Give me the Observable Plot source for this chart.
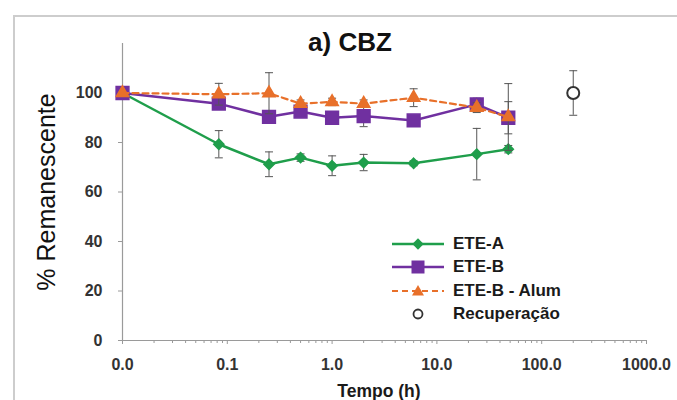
<!DOCTYPE html>
<html>
<head>
<meta charset="utf-8">
<script src="https://cdn.jsdelivr.net/npm/d3@7"></script>
<script src="https://cdn.jsdelivr.net/npm/@observablehq/plot@0.6"></script>
<style>
  html, body { margin: 0; padding: 0; background: #fff; overflow: hidden; }
  #wrap { position: relative; width: 677px; height: 400px; font-family: "Liberation Sans", Arial, sans-serif; }
  #border { position: absolute; left: 13px; top: 15px; width: 720px; height: 450px; border: 2px solid #cdcdcd; box-sizing: border-box; }
  #chart { position: absolute; left: 0; top: 0; }
  #title { position: absolute; left: 0; width: 700px; top: 27px; text-align: center; font-weight: bold; font-size: 26px; color: #111; }
  #ylab { position: absolute; left: 46px; top: 192px; transform: translate(-50%, -50%) rotate(-90deg); white-space: nowrap; font-size: 25px; color: #111; }
  #xlab { position: absolute; left: 379px; top: 381px; transform: translateX(-50%); white-space: nowrap; font-size: 17.5px; font-weight: bold; color: #1a1a1a; }
  #legend { position: absolute; left: 392px; top: 232px; font-size: 17px; font-weight: bold; color: #1a1a1a; }
  #legend .row { display: flex; align-items: center; height: 23.5px; }
  #legend svg { width: 52px; height: 20px; margin-right: 9px; }
  g[aria-label="x-axis tick label"] text, g[aria-label="y-axis tick label"] text { font-weight: bold; }
</style>
</head>
<body>
<div id="wrap">
  <div id="border"></div>
  <div id="chart"></div>
  <div id="title">a) CBZ</div>
  <div id="ylab">% Remanescente</div>
  <div id="xlab">Tempo (h)</div>
  <div id="legend"></div>
</div>
<script>
// ---- data (time in hours; t = 0 plotted at 0.01 on the log axis) ----
const tempo = [0.01, 0.083, 0.25, 0.5, 1, 2, 6, 24, 48];
const eteA = [100, 79.3, 71.2, 73.9, 70.6, 71.9, 71.6, 75.3, 77.3];
const eteAErr = [0, 5.5, 5, 1.5, 4, 3.3, 1, 10.4, 1.5];
const eteB = [100, 95.7, 90.4, 92.5, 90, 90.7, 88.9, 95.4, 90];
const eteBErr = [0, 1.5, 2, 1.5, 2, 4.3, 1.5, 2.5, 6.5];
const eteBAlum = [100, 99.5, 99.9, 95.7, 96.4, 95.7, 98.1, 94.1, 90.3];
const eteBAlumErr = [0, 4.4, 8.3, 1.5, 1.5, 1.5, 3.6, 2, 13.5];
const recTempo = [200];
const recValor = [100];
const recErr = [9];

const seriesNames = ["ETE-A", "ETE-B", "ETE-B - Alum", "Recuperação"];
const xMajorTicks = [0.01, 0.1, 1, 10, 100, 1000];
const yTicks = [0, 20, 40, 60, 80, 100];
const xDomain = [0.01, 1000];
const yDomain = [0, 120];

const colors = {"ETE-A": "#1f9e4b", "ETE-B": "#7030a0", "ETE-B - Alum": "#e8702a", "Recuperação": "#333"};

// build tables
const mk = (name, xs, ys, es) => xs.map((x, i) => ({serie: name, x, y: ys[i], e: es[i]}));
const dA = mk("ETE-A", tempo, eteA, eteAErr);
const dB = mk("ETE-B", tempo, eteB, eteBErr);
const dC = mk("ETE-B - Alum", tempo, eteBAlum, eteBAlumErr);
const dR = mk("Recuperação", recTempo, recValor, recErr);

// minor log ticks
const xMinorTicks = [];
for (const dec of xMajorTicks.slice(0, -1)) for (const m of d3.range(2, 10)) xMinorTicks.push(dec * m);

const capSymbol = {draw(ctx, size) { const w = Math.sqrt(size / Math.PI); ctx.moveTo(-w, 0); ctx.lineTo(w, 0); }};
const errMarks = (d) => [
  Plot.ruleX(d.filter(r => r.e > 0), {x: "x", y1: r => r.y - r.e, y2: r => r.y + r.e, stroke: "#555", strokeWidth: 1}),
  Plot.dot(d.filter(r => r.e > 0), {x: "x", y: r => r.y + r.e, symbol: capSymbol, r: 4, stroke: "#555", strokeWidth: 1}),
  Plot.dot(d.filter(r => r.e > 0), {x: "x", y: r => r.y - r.e, symbol: capSymbol, r: 4, stroke: "#555", strokeWidth: 1})
];

const chart = Plot.plot({
  width: 677, height: 400,
  marginLeft: 122, marginRight: 31, marginTop: 43, marginBottom: 60,
  style: {background: "transparent", fontFamily: "'Liberation Sans', Arial, sans-serif", fontSize: "16px", color: "#333"},
  x: {type: "log", domain: xDomain},
  y: {domain: yDomain},
  marks: [
    Plot.axisX({ticks: xMinorTicks, tickFormat: () => "", tickSize: 3, stroke: "#9a9a9a", label: null}),
    Plot.axisX({ticks: xMajorTicks, tickFormat: d3.format(".1f"), tickSize: 4, tickPadding: 14, stroke: "#9a9a9a", fill: "#333", label: null}),
    Plot.axisY({ticks: yTicks, tickSize: 4, tickPadding: 16, stroke: "#9a9a9a", fill: "#333", label: null}),
    Plot.ruleY([yDomain[0]], {stroke: "#9a9a9a", strokeWidth: 1.2}),
    Plot.ruleX([xDomain[0]], {stroke: "#9a9a9a", strokeWidth: 1.2}),
    // ETE-A
    ...errMarks(dA),
    Plot.line(dA, {x: "x", y: "y", stroke: colors["ETE-A"], strokeWidth: 2.5}),
    Plot.dot(dA, {x: "x", y: "y", symbol: "diamond2", r: 4.6, fill: colors["ETE-A"], stroke: colors["ETE-A"]}),
    // ETE-B
    ...errMarks(dB),
    Plot.line(dB, {x: "x", y: "y", stroke: colors["ETE-B"], strokeWidth: 2.5}),
    Plot.dot(dB, {x: "x", y: "y", symbol: "square", r: 7.2, fill: colors["ETE-B"], stroke: colors["ETE-B"]}),
    // ETE-B - Alum
    ...errMarks(dC),
    Plot.line(dC, {x: "x", y: "y", stroke: colors["ETE-B - Alum"], strokeWidth: 2.2, strokeDasharray: "6,4"}),
    Plot.dot(dC, {x: "x", y: "y", symbol: "triangle", r: 4.6, fill: colors["ETE-B - Alum"], stroke: colors["ETE-B - Alum"]}),
    // Recuperação
    ...errMarks(dR),
    Plot.dot(dR, {x: "x", y: "y", symbol: "circle", r: 6, fill: "white", stroke: "#333", strokeWidth: 2})
  ]
});
document.getElementById("chart").appendChild(chart);

// legend
const legendSvg = {
  "ETE-A": `<line x1="0" y1="10" x2="52" y2="10" stroke="${colors["ETE-A"]}" stroke-width="2.5"/><rect x="22" y="6" width="8" height="8" transform="rotate(45 26 10)" fill="${colors["ETE-A"]}"/>`,
  "ETE-B": `<line x1="0" y1="10" x2="52" y2="10" stroke="${colors["ETE-B"]}" stroke-width="2.5"/><rect x="19.5" y="3.5" width="13" height="13" fill="${colors["ETE-B"]}"/>`,
  "ETE-B - Alum": `<line x1="0" y1="10" x2="52" y2="10" stroke="${colors["ETE-B - Alum"]}" stroke-width="2.2" stroke-dasharray="6,4"/><path d="M26,4 L32,14.5 L20,14.5 Z" fill="${colors["ETE-B - Alum"]}"/>`,
  "Recuperação": `<circle cx="26" cy="10" r="4.5" fill="white" stroke="#333" stroke-width="1.8"/>`
};
document.getElementById("legend").innerHTML = seriesNames.map(n =>
  `<div class="row"><svg viewBox="0 0 52 20">${legendSvg[n]}</svg><span>${n}</span></div>`).join("");
</script>
</body>
</html>
